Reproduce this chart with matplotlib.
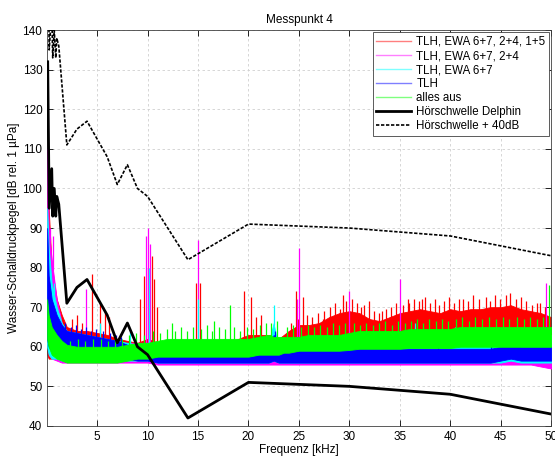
from __future__ import annotations

import matplotlib

matplotlib.use("Agg")
import matplotlib.pyplot as plt
import numpy as np
from matplotlib.lines import Line2D

plt.rcParams["font.family"] = ["Liberation Sans", "DejaVu Sans"]
plt.rcParams["font.size"] = 8.5

# frequency grid (kHz) for the noise bands
freq_grid = [0.05, 0.2, 0.5, 1, 1.5, 2, 3, 4, 5, 6, 7, 8, 9, 10, 11, 12, 13, 14, 15, 16,
             17, 18, 19, 20, 21, 22, 22.5, 23, 23.5, 24, 25, 26, 27, 28, 29, 30, 31, 32, 33,
             34, 35, 36, 37, 38, 39, 40, 41, 42, 43, 44, 45, 46, 47, 48, 49, 50]

red_low = [58, 57, 57, 57, 57, 57, 57, 57, 57, 57, 57, 56.5, 56.5, 56.5, 56.5, 56, 56, 56, 56, 56,
           56, 56, 56, 56, 56, 56, 56, 56, 56, 56, 56, 56.5, 56.5, 56.5, 57, 57, 57, 57, 57,
           57, 57, 57, 57, 57, 57, 57, 57, 57, 57, 57, 57, 57, 57, 57, 57, 57]
red_high = [100, 95, 80, 72, 68, 65, 64, 64, 63.5, 63, 62, 61.5, 61, 62, 61, 60.5, 61, 61, 61, 61,
            61, 61, 62, 63, 63, 63, 63, 62, 63, 64, 65.5, 65.5, 66, 67.5, 68.5, 69, 68.5, 67, 66.5,
            67.5, 68.5, 69, 69.5, 69, 68.5, 69.5, 69, 69.5, 69.5, 70, 70, 70.5, 69.5, 69, 68.5, 67.5]

magenta_low = [62, 58, 57, 56.5, 56, 56, 56, 56, 56, 56, 56, 56, 56, 56, 55.5, 55.5, 55.5, 55.5,
               55.5, 55.5, 55.5, 55.5, 55.5, 55.5, 55.5, 55.5, 55.5, 55.5, 55.5, 55.5, 55.5, 55.5,
               55.5, 55.5, 55.5, 55.5, 55.5, 55.5, 55.5, 55.5, 55.5, 55.5, 55.5, 55.5, 55.5, 55.5,
               55.5, 55.5, 55.5, 55.5, 55.5, 55.5, 55.5, 55.5, 55, 54.5]
magenta_high = [110, 90, 82, 72, 66, 63, 61, 61, 61, 61, 61, 61, 61, 61, 60, 60, 60, 60, 60, 60,
                60, 60, 60, 60, 60, 60, 60, 60, 60, 60, 60, 60, 60, 60, 60, 60, 60, 60, 60, 60,
                60, 60, 60, 60, 60, 60, 60, 60, 60, 60, 60, 60, 60, 60, 60, 60]

cyan_low = [60, 58, 57, 57, 56.5, 56.5, 56.5, 56.5, 56.5, 56.5, 56.5, 56.5, 56.5, 56.5, 56, 56,
            56, 56, 56, 56, 56, 56, 56, 56, 56, 56, 56.5, 56, 56, 56, 56, 56, 56, 56, 56, 56,
            56, 56, 56, 56, 56, 56, 56, 56, 56, 56, 56, 56, 56, 56, 56, 56.5, 56, 56, 56, 56]
cyan_high = [95, 85, 76, 70, 66, 64, 63.5, 63, 62.5, 62, 61.5, 61, 60.5, 61, 60, 59.5, 59.5, 59.5,
             59.5, 59.5, 59.5, 59.5, 59.5, 60, 60, 61, 66, 59, 60, 60.5, 61, 61, 61, 61, 61.5,
             61.5, 61.5, 62, 62, 62.5, 63, 63, 63.5, 63, 63, 64, 63.5, 63, 63, 63, 63, 62, 63,
             63, 63, 63]

blue_low = [62, 60, 59, 58.5, 58, 58, 58, 58, 58, 58, 57.5, 57, 56.5, 56.5, 56, 56, 56, 56, 56,
            56, 56, 56, 56, 56, 56, 56, 56.5, 56, 56, 56, 56, 56, 56, 56, 56, 56, 56, 56, 56, 56,
            56, 56, 56, 56, 56, 56, 56, 56, 56, 56, 56.5, 57, 56.5, 56.5, 56.5, 56.5]
blue_high = [90, 78, 72, 68, 65.5, 64, 63.5, 63, 62.5, 62, 61.5, 60.5, 60, 59, 59, 58.5, 58.5, 58.5,
             58.5, 58.5, 58.5, 58.5, 58.5, 58.5, 58.5, 60, 63, 60, 59.5, 59.5, 59.5, 59.5, 59.5,
             59.5, 60.5, 60.5, 59.5, 59.5, 59.5, 59.5, 59.5, 59.5, 59.5, 59.5, 59.5, 59.5, 59.5,
             59.5, 59.5, 59.5, 60, 62, 60, 60, 60, 60]

green_low = [62, 60, 58, 57, 56.5, 56, 56, 56, 56, 56, 56, 56.5, 57, 57, 57.5, 57.5, 57.5, 57.5,
             57.5, 57.5, 57.5, 57.5, 57.5, 57.5, 58, 58, 58, 58, 58.5, 58.5, 59, 59, 59, 59, 59,
             59.2, 59.5, 59.5, 59.5, 59.5, 59.5, 59.7, 59.7, 59.7, 59.7, 59.7, 60, 60, 60, 60,
             60, 60, 60, 60, 60, 60]
green_high = [72, 68, 65, 63, 61.5, 60.5, 60, 60, 60, 60, 60, 60.5, 61, 61, 61.5, 62, 62, 62,
              62, 62, 62, 62, 62, 62, 62.5, 63, 62.5, 62.5, 62.5, 62.5, 62.5, 63, 63, 63, 63,
              63.5, 64, 64, 64, 64, 64, 64.5, 64.5, 64.5, 64.5, 64.5, 65, 65, 65, 65, 65, 65,
              65, 65, 65, 65]

# single tonal peaks (frequency kHz, peak level dB)
red_spike_freq = [2.5, 3.0, 3.5, 4.5, 5.3, 5.8, 6.2, 9.3, 9.6, 10.0, 10.4, 10.6, 10.9, 14.8, 15.2,
                  19.6, 20.3, 20.7, 21.2, 24.7, 25.4, 27.5, 29.4, 31.5, 33.2, 35.8, 37.2, 38.5,
                  41.3, 43.5, 45.5, 47.0, 48.6]
red_spike_level = [67, 68, 66, 78.5, 71, 69, 67.5, 72, 78, 80, 83, 77, 70, 76, 76,
                   74, 72.5, 67.5, 68, 74, 72.5, 69, 73, 70.5, 69, 72, 72, 72,
                   72, 72.5, 73, 72.5, 71]
magenta_spike_freq = [0.1, 0.3, 0.6, 3.9, 9.8, 10.0, 10.2, 15.0, 24.8, 25.0, 30.0, 35.0, 49.5]
magenta_spike_level = [112, 90, 88, 74.5, 88, 90, 86, 87, 72, 85, 74, 77, 76]
cyan_spike_freq = [0.7, 5.3, 8.3, 10.1, 15.0, 22.5, 36.5, 40.5, 46.4]
cyan_spike_level = [76, 66, 64, 80, 72, 70.5, 66, 65, 63]
green_spike_freq = [12.4, 16.6, 18.2, 22.8, 49.8]
green_spike_level = [66, 66.5, 70.5, 66.5, 75.5]
blue_spike_freq = [22.6, 46.3]
blue_spike_level = [64, 62]

# smaller noise peaks along the upper edge of the bands
red_ripple_freq = [24.2, 24.9, 25.8, 26.3, 26.9, 27.4, 28.1, 28.6, 29.1, 29.7, 30.3, 30.8, 31.2,
                   31.9, 32.4, 32.9, 33.6, 34.1, 34.6, 35.3, 35.9, 36.4, 36.9, 37.5, 38.0, 38.9,
                   39.4, 39.9, 40.4, 40.9, 41.8, 42.3, 42.9, 43.9, 44.4, 44.9, 45.9, 46.5, 47.5,
                   48.1, 48.9, 49.4]
red_ripple_level = [66, 67, 68, 67.5, 68.5, 67, 70, 71, 69.5, 71.5, 72, 71, 70,
                    71.5, 69, 68.5, 69.5, 70, 71, 70.5, 71, 72, 71.5, 72.5, 71, 70.5,
                    71.5, 72.5, 71, 72, 71.5, 73, 72, 71.5, 73, 72, 73.5, 72, 71.5,
                    70.5, 71, 70]
green_ripple_freq = [2.3, 3.1, 3.8, 4.6, 5.4, 6.1, 6.8, 7.5, 8.2, 8.9, 9.6, 10.5, 11.2, 11.9, 12.7,
                     13.3, 13.9, 14.5, 15.3, 15.9, 16.4, 17.1, 17.7, 18.6, 19.2, 19.9, 20.5, 21.1,
                     21.7, 22.2, 23.8, 24.4, 25.2, 25.9, 26.5, 27.1, 27.8, 28.4, 29.0, 29.6, 30.5,
                     31.1, 31.7, 32.3, 32.9, 33.5, 34.2, 34.8, 35.5, 36.1, 36.7, 37.3, 37.9, 38.6,
                     39.2, 39.8, 40.6, 41.2, 41.9, 42.5, 43.1, 43.8, 44.5, 45.2, 45.8, 46.6, 47.3,
                     47.9, 48.6, 49.2]
green_ripple_level = [61.5, 62, 61.5, 62, 62, 61.5, 62, 62, 63, 63.5, 63, 64, 63.5, 64.5, 64,
                      65, 64, 65, 64.5, 65.5, 64, 65, 64.5, 65, 64, 65, 64.5, 65.5,
                      66, 66, 65, 65.5, 65, 65.5, 65, 65.5, 65, 66, 65.5, 66, 66,
                      65.5, 66, 65.5, 66, 66.5, 65.5, 66.5, 66, 66.5, 67, 66, 67, 66.5,
                      67, 66.5, 67, 67.5, 66.5, 67.5, 67, 67.5, 67, 67.5, 67, 67.5, 67,
                      67.5, 67, 67.5]
blue_ripple_freq = [1.8, 2.4, 2.9, 3.4, 3.9, 4.4, 4.9, 5.6, 6.3, 6.9, 7.4, 29.5, 38.8, 44.0]
blue_ripple_level = [66, 65, 65.5, 64.5, 65, 64, 64.5, 64, 63.5, 63, 62.5, 62, 61.5, 61.5]

# audiogram of the dolphin
threshold_freq = [0.1, 0.25, 0.5, 0.6, 0.75, 0.9, 1.0, 1.2, 2, 3, 4, 6, 7, 8, 9, 10, 14, 20, 30,
                  40, 50]
threshold_level = [132, 95, 105, 93, 100, 93, 98, 96, 71, 75, 77, 68, 61, 66, 60, 58, 42, 51, 50,
                   48, 43]
threshold_offset = 40

series = [
    ("TLH, EWA 6+7, 2+4, 1+5", "#ff0000", red_low, red_high,
     red_spike_freq + red_ripple_freq, red_spike_level + red_ripple_level),
    ("TLH, EWA 6+7, 2+4", "#ff00ff", magenta_low, magenta_high,
     magenta_spike_freq, magenta_spike_level),
    ("TLH, EWA 6+7", "#00ffff", cyan_low, cyan_high, cyan_spike_freq, cyan_spike_level),
    ("TLH", "#0000ff", blue_low, blue_high,
     blue_spike_freq + blue_ripple_freq, blue_spike_level + blue_ripple_level),
    ("alles aus", "#00ff00", green_low, green_high,
     green_spike_freq + green_ripple_freq, green_spike_level + green_ripple_level),
]

fig = plt.figure(figsize=(5.55, 4.57), dpi=100)
ax = fig.add_axes([0.085, 0.068, 0.908, 0.866])

handles = []
for z, (label, color, low, high, spike_f, spike_v) in enumerate(series):
    ax.fill_between(freq_grid, low, high, color=color, lw=0.6, zorder=2 + z)
    # peaks rise from the top of their own band
    base = np.interp(spike_f, freq_grid, high) - 0.5
    ax.vlines(spike_f, base, spike_v, color=color, lw=0.9, zorder=2 + z)
    handles.append(Line2D([], [], color=color, lw=1.0, alpha=0.5, label=label))

ax.plot(threshold_freq, threshold_level, color="black", lw=2, zorder=10)
ax.plot(threshold_freq, [v + threshold_offset for v in threshold_level], color="black",
        lw=1.2, dashes=(2, 1), zorder=10)
handles.append(Line2D([], [], color="black", lw=2, label="Hörschwelle Delphin"))
handles.append(Line2D([], [], color="black", lw=1.2, dashes=(2, 1), label="Hörschwelle + 40dB"))

ax.set_xlim(0.05, 50)
ax.set_ylim(40, 140)
ax.set_xticks(range(5, 51, 5))
ax.set_yticks(range(40, 141, 10))
ax.tick_params(direction="in", top=True, right=True, length=4, width=0.6, labelsize=8.5)
ax.grid(True, color="#d0d0d0", linestyle=(0, (3, 3)), lw=0.6)
ax.set_axisbelow(True)
for spine in ax.spines.values():
    spine.set_linewidth(0.6)
    spine.set_color("#404040")

ax.set_title("Messpunkt 4", fontsize=8.5, pad=5)
ax.set_xlabel("Frequenz [kHz]", fontsize=8.5, labelpad=1)
ax.set_ylabel("Wasser-Schalldruckpegel [dB rel. 1 µPa]", fontsize=8.5, labelpad=2)

leg = ax.legend(handles=handles, loc="upper right", fontsize=8.3, fancybox=False,
                framealpha=1, edgecolor="#404040", borderaxespad=0.2, handlelength=3.0,
                labelspacing=0.18, borderpad=0.3, handletextpad=0.45)
leg.get_frame().set_linewidth(0.6)
leg.set_zorder(20)

fig.savefig("out.png", dpi=100)
